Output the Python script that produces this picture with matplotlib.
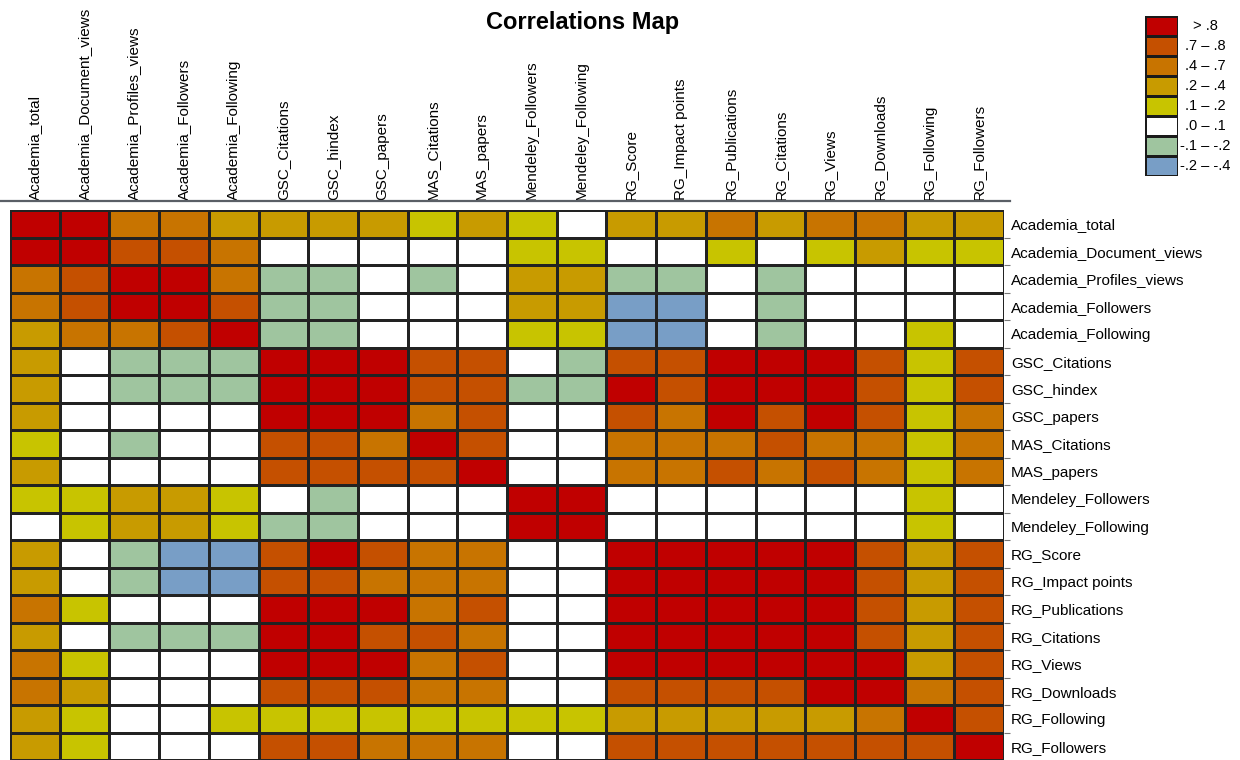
import matplotlib.pyplot as plt
import numpy as np
from matplotlib.colors import ListedColormap, BoundaryNorm
from matplotlib.lines import Line2D

plt.rcParams['font.family'] = ['Liberation Sans', 'DejaVu Sans']

variables = [
    'Academia_total', 'Academia_Document_views', 'Academia_Profiles_views',
    'Academia_Followers', 'Academia_Following', 'GSC_Citations', 'GSC_hindex',
    'GSC_papers', 'MAS_Citations', 'MAS_papers', 'Mendeley_Followers',
    'Mendeley_Following', 'RG_Score', 'RG_Impact points', 'RG_Publications',
    'RG_Citations', 'RG_Views', 'RG_Downloads', 'RG_Following', 'RG_Followers',
]

bin_labels = ['> .8', '.7 \u2013 .8', '.4 \u2013 .7', '.2 \u2013 .4',
              '.1 \u2013 .2', '.0 \u2013 .1', '-.1 \u2013 -.2', '-.2 \u2013 -.4']
bin_colors = ['#c00000', '#c55000', '#c87400', '#c89b00',
              '#c8c400', '#ffffff', '#9fc59f', '#789ec6']

# correlation class of each cell (index into bin_labels), rows top to bottom
corr_class = [
    [0, 0, 2, 2, 3, 3, 3, 3, 4, 3, 4, 5, 3, 3, 2, 3, 2, 2, 3, 3],
    [0, 0, 1, 1, 2, 5, 5, 5, 5, 5, 4, 4, 5, 5, 4, 5, 4, 3, 4, 4],
    [2, 1, 0, 0, 2, 6, 6, 5, 6, 5, 3, 3, 6, 6, 5, 6, 5, 5, 5, 5],
    [2, 1, 0, 0, 1, 6, 6, 5, 5, 5, 3, 3, 7, 7, 5, 6, 5, 5, 5, 5],
    [3, 2, 2, 1, 0, 6, 6, 5, 5, 5, 4, 4, 7, 7, 5, 6, 5, 5, 4, 5],
    [3, 5, 6, 6, 6, 0, 0, 0, 1, 1, 5, 6, 1, 1, 0, 0, 0, 1, 4, 1],
    [3, 5, 6, 6, 6, 0, 0, 0, 1, 1, 6, 6, 0, 1, 0, 0, 0, 1, 4, 1],
    [3, 5, 5, 5, 5, 0, 0, 0, 2, 1, 5, 5, 1, 2, 0, 1, 0, 1, 4, 2],
    [4, 5, 6, 5, 5, 1, 1, 2, 0, 1, 5, 5, 2, 2, 2, 1, 2, 2, 4, 2],
    [3, 5, 5, 5, 5, 1, 1, 1, 1, 0, 5, 5, 2, 2, 1, 2, 1, 2, 4, 2],
    [4, 4, 3, 3, 4, 5, 6, 5, 5, 5, 0, 0, 5, 5, 5, 5, 5, 5, 4, 5],
    [5, 4, 3, 3, 4, 6, 6, 5, 5, 5, 0, 0, 5, 5, 5, 5, 5, 5, 4, 5],
    [3, 5, 6, 7, 7, 1, 0, 1, 2, 2, 5, 5, 0, 0, 0, 0, 0, 1, 3, 1],
    [3, 5, 6, 7, 7, 1, 1, 2, 2, 2, 5, 5, 0, 0, 0, 0, 0, 1, 3, 1],
    [2, 4, 5, 5, 5, 0, 0, 0, 2, 1, 5, 5, 0, 0, 0, 0, 0, 1, 3, 1],
    [3, 5, 6, 6, 6, 0, 0, 1, 1, 2, 5, 5, 0, 0, 0, 0, 0, 1, 3, 1],
    [2, 4, 5, 5, 5, 0, 0, 0, 2, 1, 5, 5, 0, 0, 0, 0, 0, 0, 3, 1],
    [2, 3, 5, 5, 5, 1, 1, 1, 2, 2, 5, 5, 1, 1, 1, 1, 0, 0, 2, 1],
    [3, 4, 5, 5, 4, 4, 4, 4, 4, 4, 4, 4, 3, 3, 3, 3, 3, 2, 0, 1],
    [3, 4, 5, 5, 5, 1, 1, 2, 2, 2, 5, 5, 1, 1, 1, 1, 1, 1, 1, 0],
]

W, H = 1240, 760
fig = plt.figure(figsize=(W / 100, H / 100), dpi=100)

cmap = ListedColormap(bin_colors)
norm = BoundaryNorm(np.arange(len(bin_colors) + 1) - 0.5, cmap.N)

# main heatmap
ax = fig.add_axes([10 / W, 0, 994 / W, 550 / H])
data = np.array(corr_class)
n = len(variables)
ax.pcolormesh(np.arange(n + 1), np.arange(n + 1), data, cmap=cmap, norm=norm,
              edgecolors='#222222', linewidth=0.8)
ax.set_xlim(0, n)
ax.set_ylim(n, 0)
for s in ax.spines.values():
    s.set_visible(False)

ax.xaxis.tick_top()
ax.set_xticks(np.arange(n) + 0.5)
ax.set_xticklabels(variables, rotation=90, fontsize=11)
ax.tick_params(axis='x', length=0, pad=7)

ax.yaxis.tick_right()
ax.set_yticks(np.arange(n) + 0.5)
ax.set_yticklabels(variables, fontsize=11)
ax.tick_params(axis='y', length=0, pad=5)
ax.set_yticks(np.arange(1, n), minor=True)
ax.tick_params(axis='y', which='minor', length=4, color='#777777', width=0.8)

# gray rule under the column labels
fig.add_artist(Line2D([0, 1010 / W], [559 / H, 559 / H], color='#5a5f66', lw=1.6))

fig.text(583 / W, 1 - 23 / H, 'Correlations Map', ha='center', va='center',
         fontsize=17, fontweight='bold')

# legend boxes
lax = fig.add_axes([1145 / W, 1 - 176 / H, 33 / W, 160 / H])
k = len(bin_colors)
lax.pcolormesh(np.arange(2), np.arange(k + 1), np.arange(k).reshape(-1, 1),
               cmap=cmap, norm=norm, edgecolors='#1a1a1a', linewidth=0.9)
lax.set_xlim(0, 1)
lax.set_ylim(k, 0)
lax.set_xticks([])
lax.set_yticks([])
for s in lax.spines.values():
    s.set_visible(False)
for i, lab in enumerate(bin_labels):
    lax.text(1.82, i + 0.5, lab, transform=lax.transData, ha='center',
             va='center', fontsize=10.5)

fig.savefig('out.png', dpi=100)
